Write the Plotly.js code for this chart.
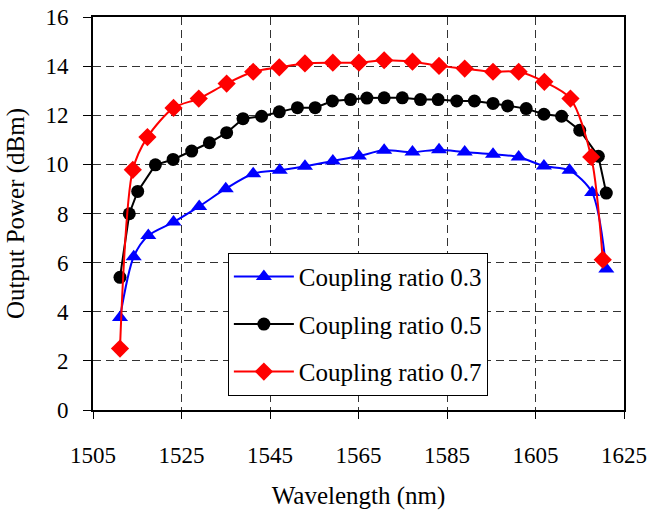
<!DOCTYPE html>
<html>
<head>
<meta charset="utf-8">
<script src="https://cdn.plot.ly/plotly-3.0.1.min.js"></script>
</head>
<body style="margin:0">
<div id="chart" style="width:650px;height:510px"></div>
<script>
// Coupling ratio 0.3 (blue triangles)
var wl03 = [1511.1, 1514.2, 1517.5, 1523.2, 1529.0, 1535.0, 1541.2, 1547.2, 1552.9, 1559.2, 1565.1, 1570.8, 1577.2, 1583.2, 1589.0, 1595.4, 1601.2, 1606.9, 1612.7, 1617.8, 1621.0];
var p03  = [3.77, 6.24, 7.10, 7.65, 8.29, 9.01, 9.62, 9.76, 9.92, 10.14, 10.34, 10.57, 10.50, 10.60, 10.50, 10.41, 10.30, 9.93, 9.76, 8.85, 5.74];
// Coupling ratio 0.5 (black circles)
var wl05 = [1511.1, 1513.2, 1515.1, 1519.1, 1523.1, 1527.3, 1531.3, 1535.2, 1538.9, 1543.1, 1547.1, 1551.2, 1555.2, 1559.1, 1563.2, 1566.9, 1570.8, 1574.9, 1579.0, 1583.0, 1587.2, 1591.2, 1595.4, 1598.7, 1602.9, 1606.9, 1610.9, 1615.0, 1619.2, 1621.0];
var p05  = [5.40, 7.99, 8.90, 9.98, 10.20, 10.54, 10.88, 11.29, 11.86, 11.96, 12.14, 12.31, 12.31, 12.58, 12.64, 12.70, 12.71, 12.71, 12.64, 12.64, 12.58, 12.58, 12.48, 12.38, 12.27, 12.04, 11.96, 11.39, 10.33, 8.83];
// Coupling ratio 0.7 (red diamonds)
var wl07 = [1511.1, 1514.0, 1517.3, 1523.2, 1528.9, 1535.2, 1541.2, 1547.1, 1552.9, 1559.2, 1565.1, 1570.8, 1577.2, 1583.2, 1589.0, 1595.4, 1601.2, 1607.0, 1612.9, 1617.6, 1620.2];
var p07  = [2.50, 9.78, 11.11, 12.30, 12.68, 13.29, 13.77, 13.95, 14.11, 14.14, 14.14, 14.24, 14.18, 14.01, 13.90, 13.77, 13.77, 13.36, 12.68, 10.30, 6.12];

var seriesNames = ['Coupling ratio 0.3', 'Coupling ratio 0.5', 'Coupling ratio 0.7'];
var xTicks = [1505, 1525, 1545, 1565, 1585, 1605, 1625];
var yTicks = [0, 2, 4, 6, 8, 10, 12, 14, 16];

var F = 'Times New Roman';

var traces = [
  {x: wl03, y: p03, name: seriesNames[0], type: 'scatter', mode: 'lines+markers', legendgroup: 'a',
   line: {color: '#0000ff', width: 2, shape: 'spline', smoothing: 0.8},
   marker: {symbol: 'triangle-up', size: 14, color: '#0000ff'}},
  {x: wl05, y: p05, name: seriesNames[1], type: 'scatter', mode: 'lines+markers', legendgroup: 'b',
   line: {color: '#000000', width: 2},
   marker: {symbol: 'circle', size: 13, color: '#000000'}},
  {x: wl07, y: p07, name: seriesNames[2], type: 'scatter', mode: 'lines+markers', legendgroup: 'c',
   line: {color: '#ff0000', width: 2, shape: 'spline', smoothing: 0.8},
   marker: {symbol: 'diamond', size: 14, color: '#ff0000'}}
];

var layout = {
  width: 650, height: 510,
  margin: {l: 93, r: 26, t: 17, b: 100},
  paper_bgcolor: '#fff', plot_bgcolor: '#fff',
  showlegend: true,
  legend: {
    x: 0.254, y: 0.40, xanchor: 'left', yanchor: 'top',
    bgcolor: '#fff', bordercolor: '#000', borderwidth: 1,
    font: {family: F, size: 25, color: '#000'},
    tracegroupgap: 12, itemwidth: 60
  },
  xaxis: {
    range: [1505, 1625], tickvals: xTicks, ticktext: xTicks.map(String),
    ticks: 'outside', ticklen: 7, tickwidth: 1, tickcolor: '#000',
    showline: true, linecolor: '#000', linewidth: 2, mirror: true,
    showgrid: true, gridcolor: '#333', griddash: '8px,5px', gridwidth: 1,
    zeroline: false, ticklabelstandoff: 16,
    tickfont: {family: F, size: 23, color: '#000'},
    title: {text: 'Wavelength (nm)', font: {family: F, size: 25, color: '#000'}, standoff: 22}
  },
  yaxis: {
    range: [0, 16], tickvals: yTicks, ticktext: yTicks.map(String),
    ticks: 'outside', ticklen: 8, tickwidth: 1, tickcolor: '#000',
    showline: true, linecolor: '#000', linewidth: 2, mirror: true,
    showgrid: true, gridcolor: '#333', griddash: '8px,5px', gridwidth: 1,
    zeroline: false, ticklabelstandoff: 10,
    tickfont: {family: F, size: 23, color: '#000'},
    title: {text: 'Output Power (dBm)', font: {family: F, size: 25, color: '#000'}, standoff: 14}
  }
};

Plotly.newPlot('chart', traces, layout, {displayModeBar: false});
</script>
</body>
</html>
